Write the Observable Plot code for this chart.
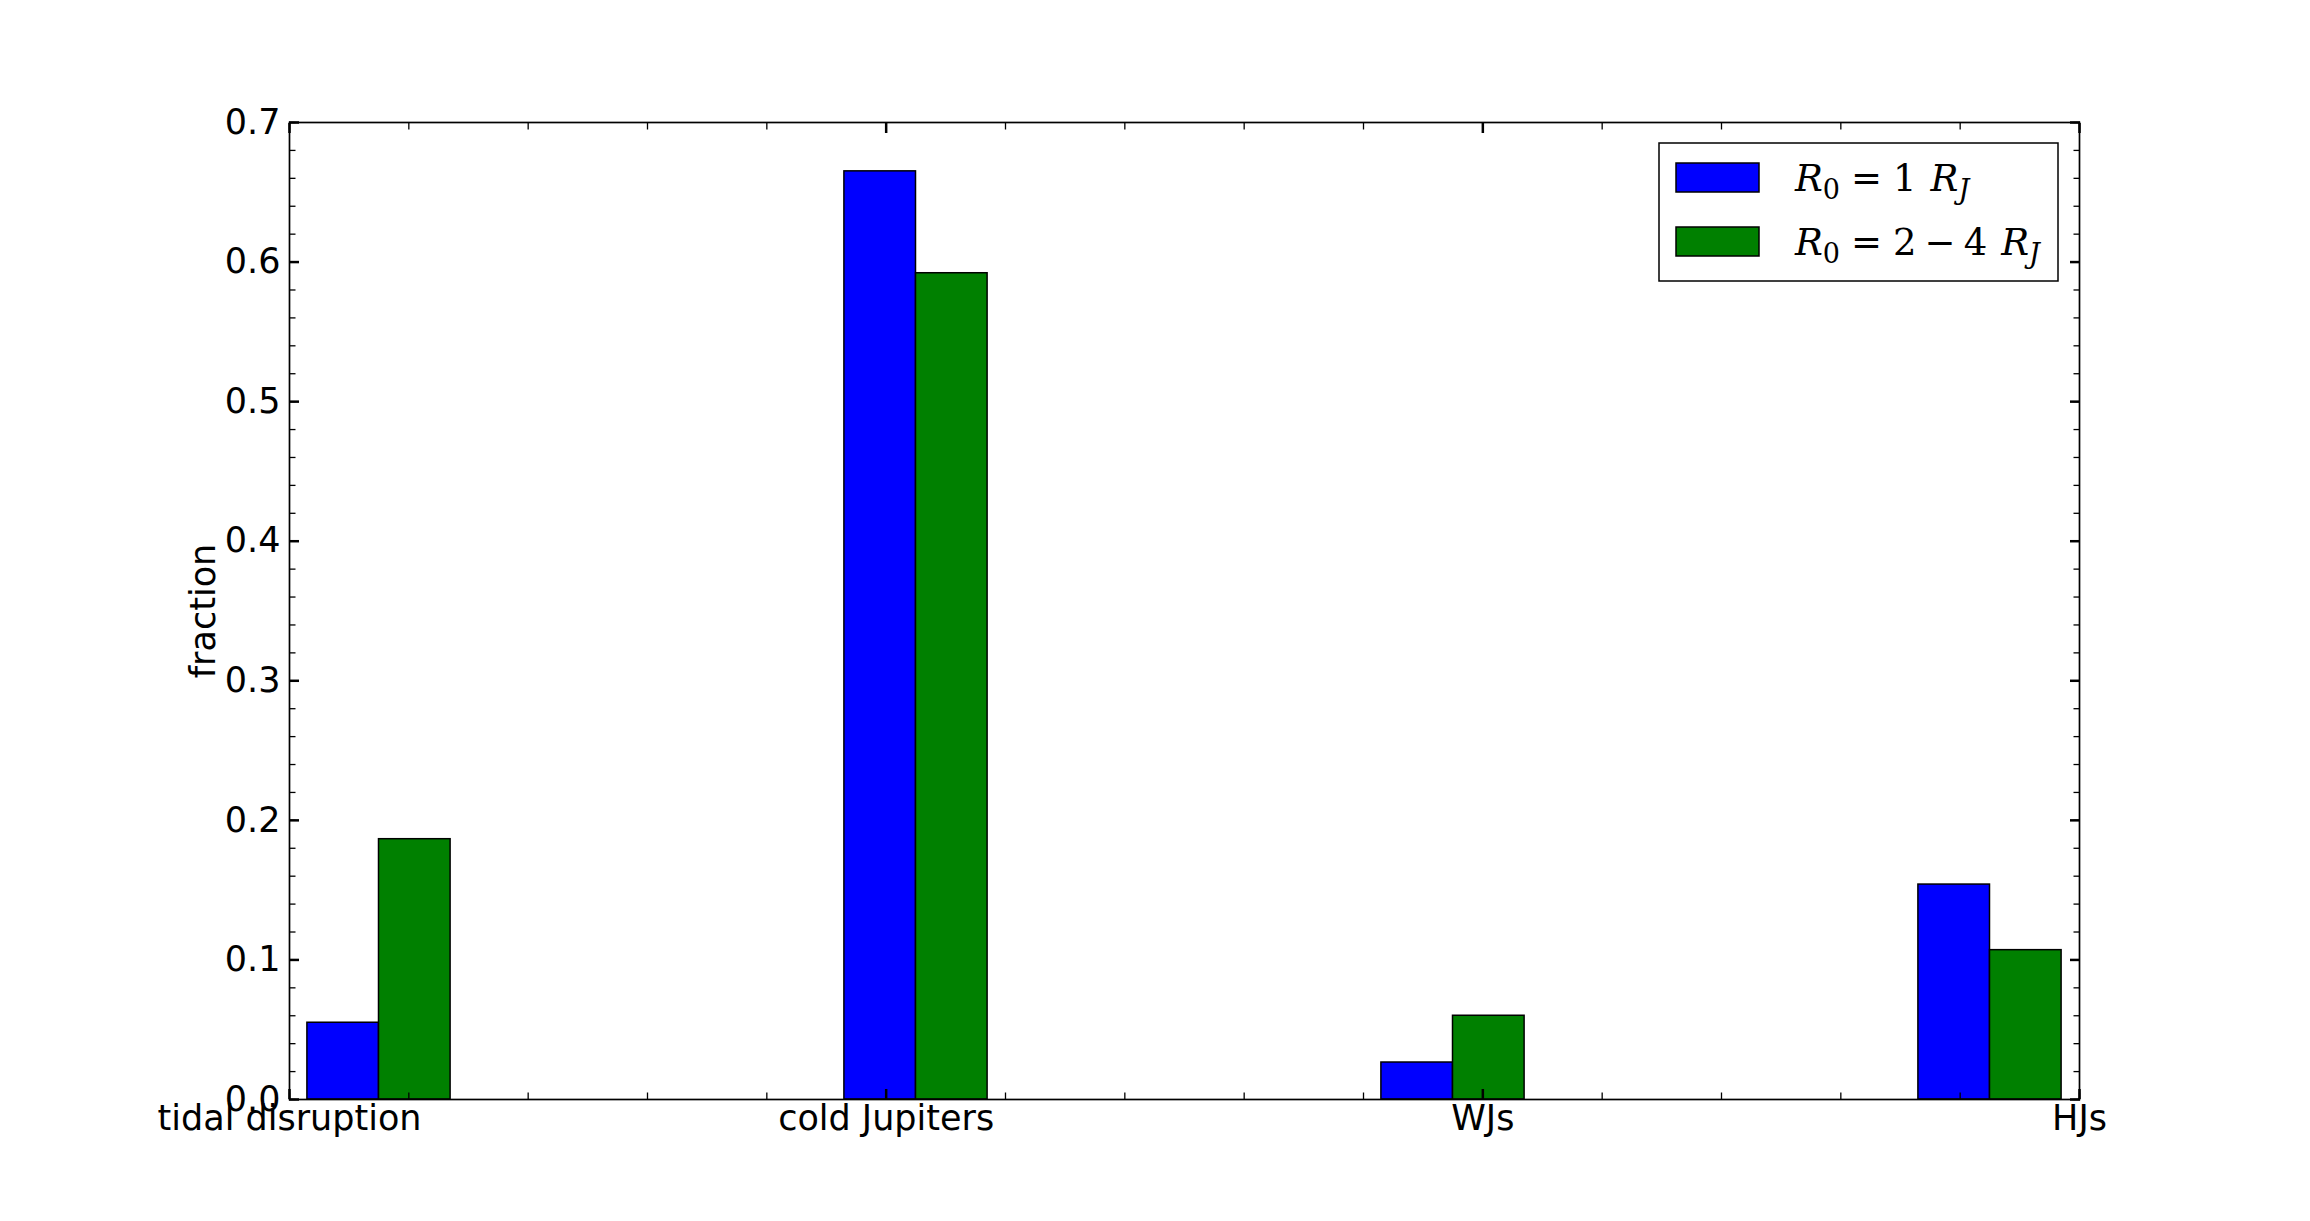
<!DOCTYPE html>
<html>
<head>
<meta charset="utf-8">
<script src="https://cdn.jsdelivr.net/npm/d3@7"></script>
<script src="https://cdn.jsdelivr.net/npm/@observablehq/plot@0.6"></script>
<style>
  body { margin: 0; background: #fff; }
  #wrap { width: 2310px; height: 1221px; }
</style>
</head>
<body>
<div id="wrap"></div>
<script>
// ---- data ----
const categories = ["tidal disruption", "cold Jupiters", "WJs", "HJs"];
const categoryPositions = [0, 1, 2, 3];
const seriesNames = ["R0 = 1 RJ", "R0 = 2-4 RJ"];
const seriesColors = ["#0000ff", "#008000"];
const valuesR1 = [0.055, 0.665, 0.0265, 0.154];
const valuesR24 = [0.1865, 0.592, 0.060, 0.107];
const yTickValues = [0, 0.1, 0.2, 0.3, 0.4, 0.5, 0.6, 0.7];
const yTickLabels = ["0.0", "0.1", "0.2", "0.3", "0.4", "0.5", "0.6", "0.7"];

// histogram-style layout (10 bins over [0,3], rwidth 0.8, two series side by side)
const nBins = 10, xMin = 0, xMax = 3, rwidth = 0.8;
const binWidth = (xMax - xMin) / nBins;
const barWidth = binWidth * rwidth / seriesNames.length;
const seriesValues = [valuesR1, valuesR24];

const bars = [];
categoryPositions.forEach((p, i) => {
  const bin = Math.min(nBins - 1, Math.floor((p - xMin) / binWidth));
  const start = xMin + bin * binWidth + binWidth * (1 - rwidth) / 2;
  seriesValues.forEach((vals, j) => {
    bars.push({x1: start + j * barWidth, x2: start + (j + 1) * barWidth, value: vals[i], series: seriesNames[j]});
  });
});

const yMinor = d3.range(0, 36).map(k => k * 0.02);
const xMinor = d3.range(0, 16).map(k => k * 0.2);
const fs = 35;

const chart = Plot.plot({
  width: 2310,
  height: 1221,
  marginLeft: 289,
  marginRight: 231,
  marginTop: 122,
  marginBottom: 122,
  style: {fontFamily: "'DejaVu Sans', sans-serif", fontSize: fs + "px", color: "#000", background: "#fff", overflow: "visible"},
  x: {type: "linear", domain: [xMin, xMax]},
  y: {type: "linear", domain: [0, 0.7]},
  color: {domain: seriesNames, range: seriesColors},
  marks: [
    Plot.rect(bars, {x1: "x1", x2: "x2", y1: 0, y2: "value", fill: "series", stroke: "#000", strokeWidth: 1.5}),
    // minor ticks (inward)
    Plot.axisY(yMinor, {anchor: "left", tickSize: -6.5, tickFormat: () => "", label: null, strokeWidth: 1.3}),
    Plot.axisY(yMinor, {anchor: "right", tickSize: -6.5, tickFormat: () => "", label: null, strokeWidth: 1.3}),
    Plot.axisX(xMinor, {anchor: "bottom", tickSize: -6.5, tickFormat: () => "", label: null, strokeWidth: 1.3}),
    Plot.axisX(xMinor, {anchor: "top", tickSize: -6.5, tickFormat: () => "", label: null, strokeWidth: 1.3}),
    // major ticks (inward)
    Plot.axisY(yTickValues, {anchor: "left", tickSize: -10, tickFormat: () => "", label: null, strokeWidth: 2.5}),
    Plot.axisY(yTickValues, {anchor: "right", tickSize: -10, tickFormat: () => "", label: null, strokeWidth: 2.5}),
    Plot.axisX(categoryPositions, {anchor: "bottom", tickSize: -10, tickFormat: () => "", label: null, strokeWidth: 2.5}),
    Plot.axisX(categoryPositions, {anchor: "top", tickSize: -10, tickFormat: () => "", label: null, strokeWidth: 2.5}),
    // tick labels
    Plot.axisY(yTickValues, {anchor: "left", tickSize: 0, tickPadding: 9, tickFormat: (d, i) => yTickLabels[i], label: null, fontSize: fs}),
    Plot.axisX(categoryPositions, {anchor: "bottom", tickSize: 0, tickPadding: 6, tickFormat: (d, i) => categories[i], label: null, fontSize: fs}),
    // axis label
    Plot.text(["fraction"], {frameAnchor: "left", dx: -86, rotate: -90, textAnchor: "middle", text: d => d, fontSize: fs}),
    Plot.frame({stroke: "#000", strokeWidth: 1.7})
  ]
});

document.getElementById("wrap").appendChild(chart);

// ---- legend (drawn into the same SVG) ----
const svg = d3.select(chart);
const lg = svg.append("g").attr("class", "legend").attr("text-anchor", "start");
const lx = 1659, ly = 143, lw = 399, lh = 138;
lg.append("rect").attr("x", lx).attr("y", ly).attr("width", lw).attr("height", lh)
  .attr("fill", "#fff").attr("stroke", "#000").attr("stroke-width", 1.5);

// [glyph, kind, gap before]
const legendMath = [
  [["R", "i", 0], ["0", "sub", 0], ["=", "n", 11], ["1", "n", 11], ["R", "i", 14], ["J", "isub", 0]],
  [["R", "i", 0], ["0", "sub", 0], ["=", "n", 11], ["2", "n", 11], ["\u2212", "n", 8], ["4", "n", 8], ["R", "i", 14], ["J", "isub", 0]]
];
const subShift = 8;
seriesNames.forEach((name, j) => {
  const rowY = ly + 20 + j * 64;
  lg.append("rect").attr("x", lx + 17).attr("y", rowY).attr("width", 83).attr("height", 29)
    .attr("fill", seriesColors[j]).attr("stroke", "#000").attr("stroke-width", 1.5);
  const t = lg.append("text").attr("x", lx + 136).attr("y", rowY + 28)
    .attr("text-anchor", "start")
    .attr("font-family", "'DejaVu Serif', serif").attr("font-size", 37).attr("fill", "#000");
  let prevSub = false;
  legendMath[j].forEach(([s, kind, gap]) => {
    const isSub = kind === "sub" || kind === "isub";
    const ts = t.append("tspan").text(s).attr("dx", gap);
    if (kind === "i" || kind === "isub") ts.attr("font-style", "italic");
    if (isSub) ts.attr("font-size", 27);
    ts.attr("dy", isSub ? (prevSub ? 0 : subShift) : (prevSub ? -subShift : 0));
    prevSub = isSub;
  });
});
</script>
</body>
</html>
